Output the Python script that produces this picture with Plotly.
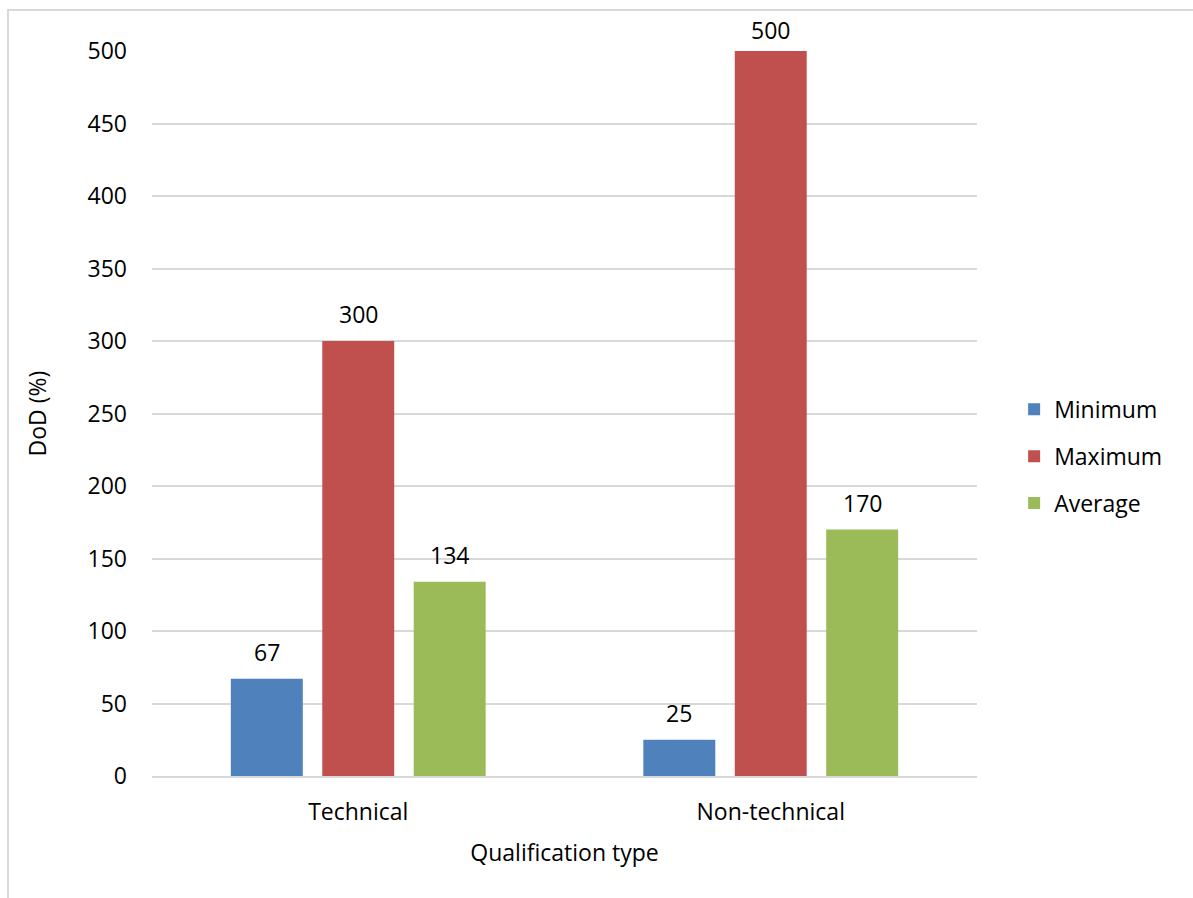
import plotly.graph_objects as go

categories = ["Technical", "Non-technical"]
minimum = [67, 25]
maximum = [300, 500]
average = [134, 170]
series_names = ["Minimum", "Maximum", "Average"]
colors = ["#4F81BD", "#C0504D", "#9BBB59"]

FONT = "Open Sans, sans-serif"
FS = 23

fig = go.Figure()
for name, vals, col in zip(series_names, [minimum, maximum, average], colors):
    fig.add_trace(go.Bar(
        name=name, x=categories, y=vals,
        marker=dict(color=col, line=dict(width=0)),
        legendgroup=name,
    ))

# value labels above each bar, offset per series within the group
n = len(series_names)
for i, vals in enumerate([minimum, maximum, average]):
    for j, (cat, v) in enumerate(zip(categories, vals)):
        fig.add_annotation(
            x=j, y=v, xref="x", yref="y",
            xshift=(i - (n - 1) / 2) * 91.5,
            text=str(v), showarrow=False,
            yanchor="bottom", yshift=3 if v >= 480 else 9,
            font=dict(size=FS, color="#000000", family=FONT),
        )

fig.update_layout(
    width=1193, height=898,
    margin=dict(l=152, r=216, t=51, b=122),
    paper_bgcolor="white", plot_bgcolor="white",
    barmode="group", bargap=0.335, bargroupgap=0.213,
    font=dict(family=FONT, size=FS, color="#000000"),
    legend=dict(
        x=1.045, y=0.441, xanchor="left", yanchor="middle",
        font=dict(size=FS), itemwidth=30, tracegroupgap=14,
        bgcolor="rgba(0,0,0,0)",
    ),
    showlegend=True,
    shapes=[dict(
        type="rect", xref="paper", yref="paper",
        x0=-144 / 825, x1=1.5, y0=-1.0, y1=1 + 41 / 725,
        line=dict(color="#D9D9D9", width=2), fillcolor="rgba(0,0,0,0)",
        layer="below",
    )],
)

fig.update_xaxes(
    showgrid=False, showline=True, linecolor="#D9D9D9", linewidth=2,
    ticks="", ticklabelstandoff=14,
    title=dict(text="Qualification type", standoff=19, font=dict(size=FS)),
    tickfont=dict(size=FS),
)
fig.update_yaxes(
    range=[0, 500], dtick=50, showgrid=True, gridcolor="#D9D9D9", gridwidth=2,
    zeroline=False, showline=False, ticks="", ticklabelstandoff=24,
    title=dict(text="DoD (%)", standoff=34, font=dict(size=FS)),
    tickfont=dict(size=FS),
)

fig.write_html("out.html")
